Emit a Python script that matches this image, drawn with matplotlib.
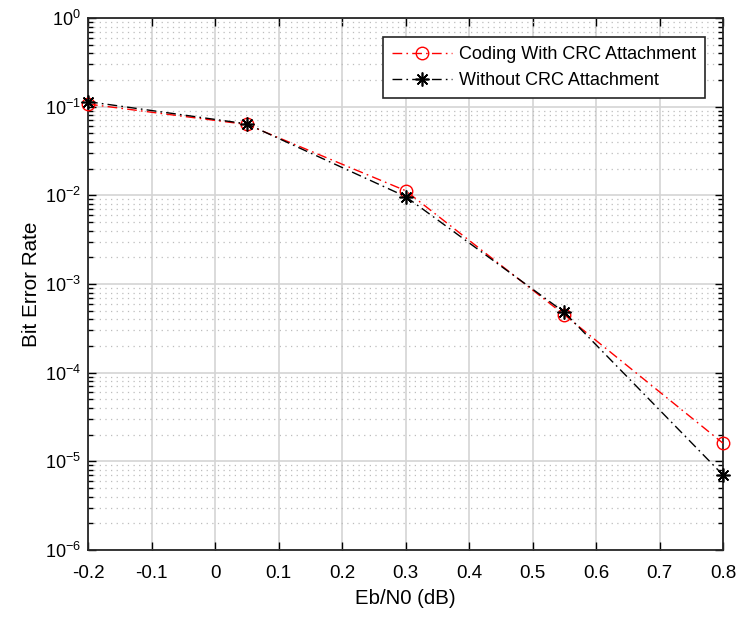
import matplotlib.pyplot as plt
import numpy as np

plt.rcParams['font.family'] = ['Liberation Sans', 'DejaVu Sans']
plt.rcParams['mathtext.fontset'] = 'custom'
plt.rcParams['mathtext.rm'] = 'Liberation Sans'
plt.rcParams['mathtext.it'] = 'Liberation Sans'
plt.rcParams['mathtext.default'] = 'regular'

ebn0 = [-0.2, 0.05, 0.3, 0.55, 0.8]
ber_crc = [0.107, 0.063, 0.0113, 0.00045, 1.6e-5]
ber_nocrc = [0.114, 0.064, 0.0097, 0.00048, 7.0e-6]
xticks = [-0.2, -0.1, 0, 0.1, 0.2, 0.3, 0.4, 0.5, 0.6, 0.7, 0.8]
xticklabels = ['-0.2', '-0.1', '0', '0.1', '0.2', '0.3', '0.4', '0.5', '0.6', '0.7', '0.8']
yticks = [1e-6, 1e-5, 1e-4, 1e-3, 1e-2, 1e-1, 1]
yticklabels = ['$10^{-6}$', '$10^{-5}$', '$10^{-4}$', '$10^{-3}$', '$10^{-2}$', '$10^{-1}$', '$10^{0}$']

dashdot = (0, (7, 3, 1.2, 3))

fig = plt.figure(figsize=(7.39, 6.21), dpi=100)
ax = fig.add_axes([0.1191, 0.1143, 0.8593, 0.8567])

ax.semilogy(ebn0, ber_crc, color='red', linestyle=dashdot, linewidth=1,
            marker='o', markersize=9, markerfacecolor='none', markeredgecolor='red',
            label='Coding With CRC Attachment', clip_on=False, zorder=3)
ax.semilogy(ebn0, ber_nocrc, color='black', linestyle=dashdot, linewidth=1,
            marker=(8, 2, 0), markersize=10, markeredgewidth=1.2,
            label='Without CRC Attachment', clip_on=False, zorder=4)

ax.set_xlim(-0.2, 0.8)
ax.set_ylim(1e-6, 1)
ax.set_xticks(xticks)
ax.set_xticklabels(xticklabels)
ax.set_yticks(yticks)
ax.set_yticklabels(yticklabels)

ax.grid(which='major', axis='both', color='#d4d4d4', linewidth=1.2)
ax.grid(which='minor', axis='y', color='#bdbdbd', linestyle=(0, (1, 3.5)), linewidth=0.9)
ax.set_axisbelow(True)

ax.tick_params(which='both', direction='in', top=True, right=True)
ax.tick_params(axis='x', which='major', pad=11, labelsize=13.5)
ax.tick_params(axis='y', which='major', pad=5, labelsize=13)
ax.tick_params(which='major', length=6, width=1)
ax.tick_params(which='minor', length=3.5, width=1)
for s in ax.spines.values():
    s.set_linewidth(1.3)
    s.set_color('#262626')

ax.set_xlabel('Eb/N0 (dB)', fontsize=14.7, labelpad=5)
ax.set_ylabel('Bit Error Rate', fontsize=14.9, labelpad=3)

leg = ax.legend(loc='upper right', bbox_to_anchor=(0.9717, 0.9643), borderaxespad=0,
                fontsize=13, fancybox=False, framealpha=1, edgecolor='#262626',
                handlelength=3.3, handletextpad=0.4, borderpad=0.5, labelspacing=0.5)
leg.get_frame().set_linewidth(1.2)

plt.savefig('out.png', dpi=100)
